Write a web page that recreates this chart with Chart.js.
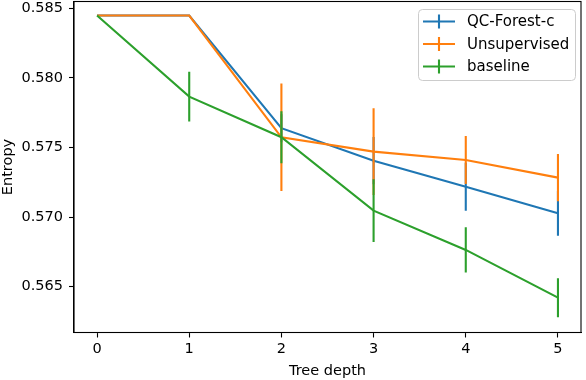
<!DOCTYPE html>
<html>
<head>
<meta charset="utf-8">
<script src="https://cdn.jsdelivr.net/npm/chart.js@4.4.1/dist/chart.umd.min.js"></script>
<style>
  html, body { margin: 0; padding: 0; background: #fff; }
  #wrap { width: 586px; height: 380px; }
</style>
</head>
<body>
<div id="wrap"><canvas id="c" width="586" height="380"></canvas></div>
<script>
// ---- data ----
const depths = [0, 1, 2, 3, 4, 5];
const qcForest    = [0.58447, 0.58447, 0.57638, 0.57405, 0.57218, 0.57027];
const qcForestErr = [0, 0, 0.0010, 0.0017, 0.00172, 0.00161];
const unsupervised    = [0.58447, 0.58447, 0.57573, 0.57470, 0.57410, 0.57283];
const unsupervisedErr = [0, 0, 0.00386, 0.00312, 0.00172, 0.00170];
const baseline    = [0.58447, 0.57865, 0.57573, 0.57046, 0.56764, 0.56421];
const baselineErr = [0, 0.00178, 0.00187, 0.00225, 0.00162, 0.00140];
const xTicks = [0, 1, 2, 3, 4, 5];
const yTicks = [0.565, 0.570, 0.575, 0.580, 0.585];
const seriesNames = ['QC-Forest-c', 'Unsupervised', 'baseline'];

const colors = ['#1f77b4', '#ff7f0e', '#2ca02c'];
const FONT = 'DejaVu Sans';
const FS = 14.5;

function linePoints(vals) { return depths.map((d, i) => ({ x: d, y: vals[i] })); }
function errPoints(vals, errs) {
  const out = [];
  depths.forEach((d, i) => {
    out.push({ x: d, y: vals[i] - errs[i] });
    out.push({ x: d, y: vals[i] + errs[i] });
    out.push({ x: d, y: null });
  });
  return out;
}

const all = [[qcForest, qcForestErr], [unsupervised, unsupervisedErr], [baseline, baselineErr]];
const datasets = [];
all.forEach((s, k) => {
  const base = { showLine: true, pointRadius: 0, borderColor: colors[k], backgroundColor: colors[k],
                 borderWidth: 2.1, tension: 0, borderCapStyle: 'butt', spanGaps: false };
  datasets.push(Object.assign({}, base, { label: seriesNames[k], data: linePoints(s[0]), order: 10 - 3 * k }));
  datasets.push(Object.assign({}, base, { label: seriesNames[k] + ' err', data: errPoints(s[0], s[1]), order: 9 - 3 * k }));
});

const framePlugin = {
  id: 'frame',
  afterDraw(chart) {
    const { ctx, chartArea: a } = chart;
    ctx.save();
    ctx.strokeStyle = '#000';
    ctx.lineWidth = 1.1;
    ctx.strokeRect(a.left, a.top, a.right - a.left, a.bottom - a.top);

    // legend (matplotlib style, upper right inside axes)
    const bx = 418.5, by = 9.5, bw = 157, bh = 71;
    const r = 4;
    ctx.beginPath();
    ctx.moveTo(bx + r, by);
    ctx.lineTo(bx + bw - r, by); ctx.quadraticCurveTo(bx + bw, by, bx + bw, by + r);
    ctx.lineTo(bx + bw, by + bh - r); ctx.quadraticCurveTo(bx + bw, by + bh, bx + bw - r, by + bh);
    ctx.lineTo(bx + r, by + bh); ctx.quadraticCurveTo(bx, by + bh, bx, by + bh - r);
    ctx.lineTo(bx, by + r); ctx.quadraticCurveTo(bx, by, bx + r, by);
    ctx.closePath();
    ctx.fillStyle = 'rgba(255,255,255,0.8)';
    ctx.fill();
    ctx.strokeStyle = '#cccccc';
    ctx.lineWidth = 1;
    ctx.stroke();

    const rows = [21.5, 44, 66.5];
    ctx.font = '15px "' + FONT + '"';
    ctx.textBaseline = 'middle';
    ctx.textAlign = 'left';
    seriesNames.forEach((name, k) => {
      const y = rows[k];
      ctx.strokeStyle = colors[k];
      ctx.lineWidth = 2.1;
      ctx.lineCap = 'butt';
      ctx.beginPath();
      ctx.moveTo(423, y); ctx.lineTo(455, y);
      ctx.moveTo(439, y - 7); ctx.lineTo(439, y + 7);
      ctx.stroke();
      ctx.fillStyle = '#000';
      ctx.fillText(name, 467, y + 1);
    });
    ctx.restore();
  }
};

function zeroPad(s) { s.paddingTop = 0; s.paddingBottom = 0; s.paddingLeft = 0; s.paddingRight = 0; }

new Chart(document.getElementById('c'), {
  type: 'scatter',
  data: { datasets },
  options: {
    responsive: false,
    animation: false,
    devicePixelRatio: 1,
    layout: { padding: { top: 1.5, right: 5, left: 0, bottom: 0 } },
    plugins: { legend: { display: false }, tooltip: { enabled: false } },
    scales: {
      x: {
        type: 'linear', min: -0.25, max: 5.25,
        afterBuildTicks: s => { s.ticks = xTicks.map(v => ({ value: v })); },
        afterFit: s => { s.height = 47.5; zeroPad(s); },
        ticks: { callback: v => String(v), font: { family: FONT, size: FS }, color: '#000',
                 padding: 3, maxRotation: 0, autoSkip: false },
        grid: { drawOnChartArea: false, color: '#000', tickLength: 5, tickWidth: 1.1 },
        border: { color: '#000', width: 1.1 },
        title: { display: true, text: 'Tree depth', font: { family: FONT, size: FS }, color: '#000',
                 padding: { top: 2, bottom: 0 } }
      },
      y: {
        type: 'linear', min: 0.56171, max: 0.58548,
        afterBuildTicks: s => { s.ticks = yTicks.map(v => ({ value: v })); },
        afterFit: s => { s.width = 74; zeroPad(s); },
        ticks: { callback: v => v.toFixed(3), font: { family: FONT, size: FS }, color: '#000',
                 padding: 6, autoSkip: false },
        grid: { drawOnChartArea: false, color: '#000', tickLength: 5, tickWidth: 1.1 },
        border: { color: '#000', width: 1.1 },
        title: { display: true, text: 'Entropy', font: { family: FONT, size: FS }, color: '#000',
                 padding: { top: 0, bottom: 0 } }
      }
    }
  },
  plugins: [framePlugin]
});
</script>
</body>
</html>
